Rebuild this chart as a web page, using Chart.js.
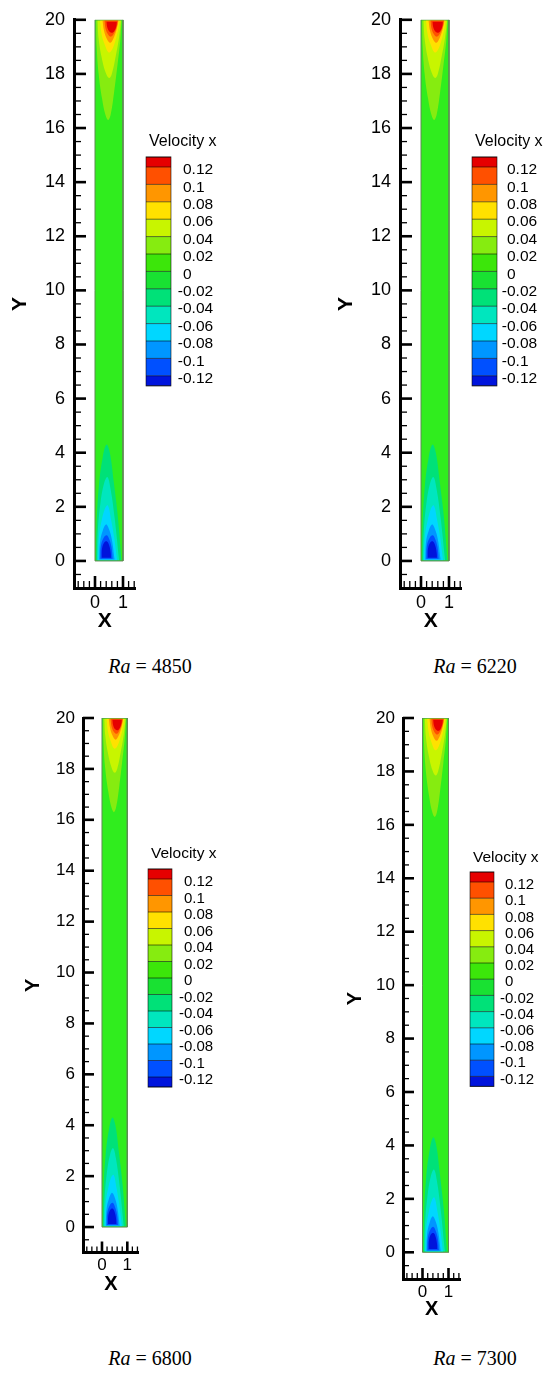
<!DOCTYPE html>
<html>
<head>
<meta charset="utf-8">
<title>Velocity x contours</title>
<script src="https://cdn.jsdelivr.net/npm/chart.js@4.4.1/dist/chart.umd.min.js"></script>
<style>
  html, body { margin: 0; padding: 0; background: #fff; }
  body { position: relative; width: 544px; height: 1388px; overflow: hidden; }
  canvas { position: absolute; }
  .caption {
    position: absolute;
    font-family: 'Liberation Serif', 'Times New Roman', serif;
    font-size: 20px;
    line-height: 1;
    color: #000;
    white-space: nowrap;
    transform: translate(-50%, -50%);
  }
</style>
</head>
<body>
<script>
// ---- data ----
const raValues = [4850, 6220, 6800, 7300];
const legendTitle = 'Velocity x';
const levels = [0.12, 0.1, 0.08, 0.06, 0.04, 0.02, 0, -0.02, -0.04, -0.06, -0.08, -0.1, -0.12];
// one colour per band, top (> 0.12) to bottom (< -0.12)
const levelColors = ['#e60000', '#ff5000', '#ff9600', '#ffe100', '#c8f500', '#86ec10', '#3ce60a',
                     '#19e132', '#00e178', '#00e6be', '#00d7ff', '#0096ff', '#0050ff', '#0014dc'];
const fieldColor = '#30ed1e';

const yMajorTicks = [0, 2, 4, 6, 8, 10, 12, 14, 16, 18, 20];
const xMajorTicks = [0, 1];
const xMinorTicks = [-0.6, -0.4, -0.2, 0.2, 0.4, 0.6, 0.8, 1.2, 1.4];
const yMinorTicks = [];
for (let v = -0.5; v < 20; v += 0.5) if (v % 2 !== 0) yMinorTicks.push(v);

// cavity outline, [x, y]
const domain = [[0, 0], [0, 20], [1, 20], [1, 0]];

// upper plume (positive velocity), outer band first
const upper002 = [[0.04, 19.97], [0.06, 19.0], [0.13, 18.0], [0.25, 17.1], [0.37, 16.5], [0.47, 16.3], [0.56, 16.5], [0.68, 17.3], [0.8, 18.3], [0.9, 19.2], [0.95, 19.97]];
const upper004 = [[0.09, 19.97], [0.13, 19.3], [0.24, 18.6], [0.38, 18.05], [0.5, 17.85], [0.6, 18.0], [0.74, 18.65], [0.86, 19.35], [0.93, 19.97]];
const upper006 = [[0.18, 19.97], [0.24, 19.45], [0.36, 19.05], [0.48, 18.8], [0.58, 18.85], [0.72, 19.2], [0.84, 19.7], [0.88, 19.97]];
const upper008 = [[0.27, 19.97], [0.32, 19.6], [0.43, 19.28], [0.54, 19.15], [0.64, 19.27], [0.76, 19.6], [0.84, 19.97]];
const upper010 = [[0.34, 19.97], [0.38, 19.66], [0.48, 19.44], [0.58, 19.38], [0.68, 19.5], [0.78, 19.75], [0.82, 19.97]];
const upper012 = [[0.41, 19.93], [0.44, 19.72], [0.52, 19.56], [0.62, 19.52], [0.71, 19.62], [0.77, 19.8], [0.78, 19.93]];

// lower plume (negative velocity), outer band first
const lowerM002 = [[0.04, 0.03], [0.06, 1.4], [0.14, 2.8], [0.27, 3.8], [0.41, 4.3], [0.53, 4.0], [0.66, 3.0], [0.82, 1.6], [0.94, 0.03]];
const lowerM004 = [[0.07, 0.03], [0.1, 1.1], [0.19, 2.1], [0.32, 2.85], [0.44, 3.1], [0.55, 2.7], [0.7, 1.6], [0.86, 0.03]];
const lowerM006 = [[0.11, 0.03], [0.14, 0.9], [0.24, 1.5], [0.36, 1.95], [0.46, 2.05], [0.56, 1.6], [0.68, 0.9], [0.79, 0.03]];
const lowerM008 = [[0.15, 0.05], [0.18, 0.7], [0.27, 1.1], [0.39, 1.35], [0.49, 1.2], [0.6, 0.8], [0.7, 0.05]];
const lowerM010 = [[0.19, 0.08], [0.21, 0.55], [0.31, 0.86], [0.42, 0.95], [0.51, 0.8], [0.59, 0.5], [0.63, 0.08]];
const lowerM012 = [[0.24, 0.12], [0.25, 0.45], [0.33, 0.68], [0.43, 0.72], [0.51, 0.56], [0.56, 0.3], [0.57, 0.12]];

// band shape -> index into levelColors
const bands = [
  [upper002, 5], [upper004, 4], [upper006, 3], [upper008, 2], [upper010, 1], [upper012, 0],
  [lowerM002, 8], [lowerM004, 9], [lowerM006, 10], [lowerM008, 11], [lowerM010, 12], [lowerM012, 13]
];

// ---- page layout (pixels) ----
const panels = [
  { box: [0, 0, 250, 645], area: [74, 16, 135.6, 588], yTitleX: 20, xTitleY: 621,
    tickFont: 18, titleFont: 21, padX: 4, padY: 9, major: 12, minor: 7,
    legend: { x: 146, top: 157, w: 25, endH: 10, step: 17.4, titleX: 149, titleY: 142, labelX: 183, font: 15.5, titleFont: 16 },
    caption: [150, 666] },
  { box: [326, 0, 218, 645], area: [400, 16, 461.6, 588], yTitleX: 346, xTitleY: 621,
    tickFont: 18, titleFont: 21, padX: 4, padY: 9, major: 12, minor: 7,
    legend: { x: 472, top: 157, w: 25, endH: 10, step: 17.4, titleX: 475, titleY: 142, labelX: 507, font: 15.5, titleFont: 16 },
    caption: [475, 666] },
  { box: [0, 690, 250, 625], area: [83, 718, 138.7, 1252.5], yTitleX: 33, xTitleY: 1284,
    tickFont: 17, titleFont: 20, padX: 3, padY: 8, major: 11, minor: 6,
    legend: { x: 148, top: 869, w: 24, endH: 10, step: 16.5, titleX: 151, titleY: 854, labelX: 184, font: 15, titleFont: 15.5 },
    caption: [150, 1358] },
  { box: [326, 690, 218, 640], area: [403, 718, 460.2, 1279], yTitleX: 355, xTitleY: 1309,
    tickFont: 17, titleFont: 20, padX: 3, padY: 8, major: 11, minor: 6,
    legend: { x: 470, top: 872, w: 24, endH: 10, step: 16.2, titleX: 473, titleY: 858, labelX: 505, font: 15, titleFont: 15.5 },
    caption: [475, 1358] }
];

Chart.defaults.font.family = "'Liberation Sans', Arial, sans-serif";
Chart.defaults.color = '#000';

// Tecplot style ticks pointing into the frame
const innerTicks = {
  id: 'innerTicks',
  afterDraw(chart, args, o) {
    const { ctx, chartArea: a } = chart;
    const xs = chart.scales.x, ys = chart.scales.y;
    ctx.save();
    ctx.strokeStyle = '#000';
    const mark = (x1, y1, x2, y2, w) => {
      ctx.lineWidth = w;
      ctx.beginPath(); ctx.moveTo(x1, y1); ctx.lineTo(x2, y2); ctx.stroke();
    };
    yMajorTicks.forEach(v => { const py = ys.getPixelForValue(v); mark(a.left, py, a.left + o.major, py, 2.6); });
    yMinorTicks.forEach(v => { const py = ys.getPixelForValue(v); mark(a.left, py, a.left + o.minor, py, 1.3); });
    xMajorTicks.forEach(v => { const px = xs.getPixelForValue(v); mark(px, a.bottom, px, a.bottom - o.major, 2.6); });
    xMinorTicks.forEach(v => { const px = xs.getPixelForValue(v); mark(px, a.bottom, px, a.bottom - o.minor, 1.3); });
    ctx.restore();
  }
};

// contour legend
const colorBar = {
  id: 'colorBar',
  afterDraw(chart, args, o) {
    const ctx = chart.ctx;
    const edges = [o.top, o.top + o.endH];
    for (let i = 1; i < levels.length; i++) edges.push(edges[edges.length - 1] + o.step);
    edges.push(edges[edges.length - 1] + o.endH);
    ctx.save();
    levelColors.forEach((c, i) => {
      ctx.fillStyle = c;
      ctx.fillRect(o.x, edges[i], o.w, edges[i + 1] - edges[i]);
    });
    ctx.strokeStyle = 'rgba(0,0,0,0.55)';
    ctx.lineWidth = 1;
    edges.forEach(e => { ctx.beginPath(); ctx.moveTo(o.x, e); ctx.lineTo(o.x + o.w, e); ctx.stroke(); });
    ctx.strokeRect(o.x, o.top, o.w, edges[edges.length - 1] - o.top);

    ctx.fillStyle = '#000';
    ctx.textAlign = 'left';
    ctx.textBaseline = 'middle';
    ctx.font = o.titleFont + "px 'Liberation Sans', Arial, sans-serif";
    ctx.fillText(legendTitle, o.titleX, o.titleY);
    ctx.font = o.font + "px 'Liberation Sans', Arial, sans-serif";
    const dash = ctx.measureText('-').width;
    levels.forEach((v, i) => {
      const y = edges[i + 1] + 3;
      ctx.fillText(String(v), v < 0 ? o.labelX - dash : o.labelX, y);
    });
    ctx.restore();
  }
};

panels.forEach((p, k) => {
  const [bl, bt, bw, bh] = p.box;
  const [L, T, R, B] = p.area;
  const canvas = document.createElement('canvas');
  canvas.width = bw;
  canvas.height = bh;
  canvas.style.left = bl + 'px';
  canvas.style.top = bt + 'px';
  canvas.style.width = bw + 'px';
  canvas.style.height = bh + 'px';
  document.body.appendChild(canvas);

  const shapes = [[domain, null]].concat(bands);
  const datasets = shapes.map(([pts, bin], i) => ({
    data: pts.map(([x, y]) => ({ x, y })),
    showLine: true,
    fill: 'shape',
    backgroundColor: bin === null ? fieldColor : levelColors[bin],
    borderColor: 'transparent',
    borderWidth: 0,
    pointRadius: 0,
    tension: bin === null ? 0 : 0.4,
    order: shapes.length + 1 - i
  }));
  datasets.push({
    data: domain.concat([domain[0]]).map(([x, y]) => ({ x, y })),
    showLine: true,
    fill: false,
    borderColor: '#5f8a55',
    borderWidth: 1,
    pointRadius: 0,
    tension: 0,
    order: 0
  });

  const titleLH = p.titleFont * 1.2;
  const lg = p.legend;

  new Chart(canvas, {
    type: 'scatter',
    data: { datasets },
    plugins: [innerTicks, colorBar],
    options: {
      responsive: false,
      animation: false,
      devicePixelRatio: 1,
      events: [],
      layout: { padding: { left: 0, top: T - bt, right: bl + bw - R, bottom: 0 } },
      plugins: {
        legend: { display: false },
        tooltip: { enabled: false },
        innerTicks: { major: p.major, minor: p.minor },
        colorBar: {
          x: lg.x - bl, top: lg.top - bt, w: lg.w, endH: lg.endH, step: lg.step,
          titleX: lg.titleX - bl, titleY: lg.titleY - bt, labelX: lg.labelX - bl,
          font: lg.font, titleFont: lg.titleFont
        }
      },
      scales: {
        x: {
          type: 'linear',
          min: -0.75,
          max: 1.45,
          afterFit: s => { s.height = bt + bh - B; },
          afterBuildTicks: s => { s.ticks = xMinorTicks.concat(xMajorTicks).sort((a, b) => a - b).map(v => ({ value: v })); },
          grid: { display: false, drawTicks: false },
          border: { display: true, color: '#000', width: 3 },
          ticks: {
            autoSkip: false, maxRotation: 0, padding: p.padX,
            font: { size: p.tickFont }, color: '#000',
            callback: v => xMajorTicks.includes(v) ? String(v) : ''
          },
          title: {
            display: true, text: 'X', color: '#000',
            font: { size: p.titleFont, weight: 'bold' },
            padding: { top: 0, bottom: bt + bh - p.xTitleY - titleLH / 2 }
          }
        },
        y: {
          type: 'linear',
          min: -1,
          max: 20,
          afterFit: s => { s.width = L - bl; },
          afterBuildTicks: s => { s.ticks = yMinorTicks.concat(yMajorTicks).sort((a, b) => a - b).map(v => ({ value: v })); },
          grid: { display: false, drawTicks: false },
          border: { display: true, color: '#000', width: 3 },
          ticks: {
            autoSkip: false, padding: p.padY,
            font: { size: p.tickFont }, color: '#000',
            callback: v => yMajorTicks.includes(v) ? String(v) : ''
          },
          title: {
            display: true, text: 'Y', color: '#000',
            font: { size: p.titleFont, weight: 'bold' },
            padding: { top: p.yTitleX - bl - titleLH / 2, bottom: 0 }
          }
        }
      }
    }
  });

  const cap = document.createElement('div');
  cap.className = 'caption';
  cap.style.left = p.caption[0] + 'px';
  cap.style.top = p.caption[1] + 'px';
  cap.innerHTML = '<i>Ra</i> = ' + raValues[k];
  document.body.appendChild(cap);
});
</script>
</body>
</html>
